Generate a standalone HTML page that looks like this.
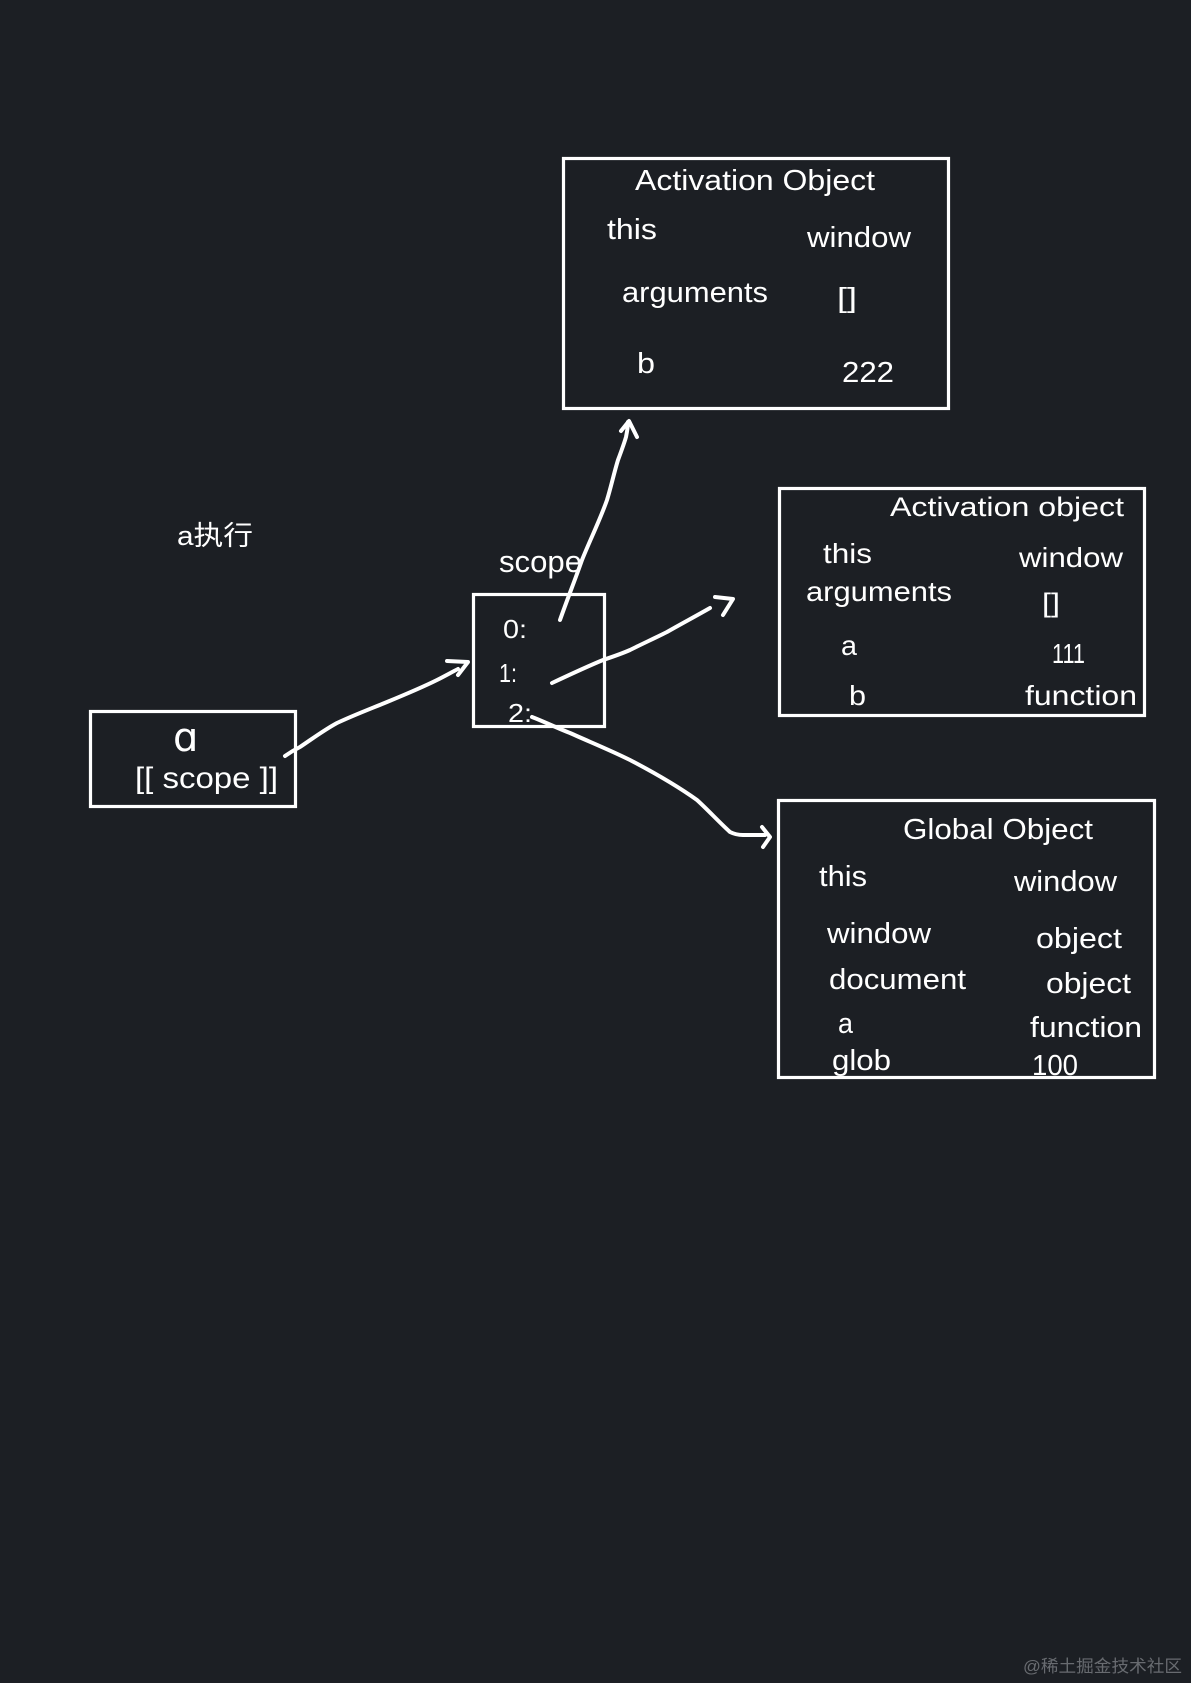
<!DOCTYPE html>
<html>
<head>
<meta charset="utf-8">
<style>
  html, body { margin: 0; padding: 0; background: #1c1f24; }
  svg { display: block; }
  text { fill: #ffffff; font-family: "Liberation Sans", "Noto Sans CJK SC", sans-serif; }
</style>
</head>
<body>
<svg width="1191" height="1683" viewBox="0 0 1191 1683" xmlns="http://www.w3.org/2000/svg">
  <rect x="0" y="0" width="1191" height="1683" fill="#1c1f24"/>

  <!-- Boxes -->
  <g fill="none" stroke="#ffffff" stroke-width="3.2">
    <rect x="563.5" y="158.5" width="385" height="250"/>
    <rect x="779.5" y="488.5" width="365" height="227"/>
    <rect x="778.5" y="800.5" width="376" height="277"/>
    <rect x="473.5" y="594.5" width="131" height="132"/>
    <rect x="90.5" y="711.5" width="205" height="95"/>
  </g>

  <!-- Box 1: Activation Object -->
  <text x="635" y="190" font-size="29" textLength="240" lengthAdjust="spacingAndGlyphs">Activation Object</text>
  <text x="607" y="239" font-size="29" textLength="50" lengthAdjust="spacingAndGlyphs">this</text>
  <text x="807" y="247" font-size="29" textLength="104" lengthAdjust="spacingAndGlyphs">window</text>
  <text x="622" y="302" font-size="29" textLength="146" lengthAdjust="spacingAndGlyphs">arguments</text>
  <text x="837" y="307" font-size="28" textLength="20" lengthAdjust="spacingAndGlyphs">[]</text>
  <text x="637" y="373" font-size="29" textLength="18" lengthAdjust="spacingAndGlyphs">b</text>
  <text x="842" y="382" font-size="29" textLength="52" lengthAdjust="spacingAndGlyphs">222</text>

  <!-- Box 2: Activation object -->
  <text x="890" y="516" font-size="27" textLength="234" lengthAdjust="spacingAndGlyphs">Activation object</text>
  <text x="823" y="563" font-size="28" textLength="49" lengthAdjust="spacingAndGlyphs">this</text>
  <text x="1019" y="567" font-size="28" textLength="104" lengthAdjust="spacingAndGlyphs">window</text>
  <text x="806" y="601" font-size="28" textLength="146" lengthAdjust="spacingAndGlyphs">arguments</text>
  <text x="1042" y="612" font-size="27" textLength="18" lengthAdjust="spacingAndGlyphs">[]</text>
  <text x="841" y="655" font-size="28" textLength="16" lengthAdjust="spacingAndGlyphs">a</text>
  <text x="1052" y="663" font-size="28" textLength="33" lengthAdjust="spacingAndGlyphs">111</text>
  <text x="849" y="705" font-size="28" textLength="17" lengthAdjust="spacingAndGlyphs">b</text>
  <text x="1025" y="705" font-size="28" textLength="112" lengthAdjust="spacingAndGlyphs">function</text>

  <!-- Box 3: Global Object -->
  <text x="903" y="839" font-size="29" textLength="190" lengthAdjust="spacingAndGlyphs">Global Object</text>
  <text x="819" y="886" font-size="29" textLength="48" lengthAdjust="spacingAndGlyphs">this</text>
  <text x="1014" y="891" font-size="29" textLength="103" lengthAdjust="spacingAndGlyphs">window</text>
  <text x="827" y="943" font-size="29" textLength="104" lengthAdjust="spacingAndGlyphs">window</text>
  <text x="1036" y="948" font-size="29" textLength="86" lengthAdjust="spacingAndGlyphs">object</text>
  <text x="829" y="989" font-size="29" textLength="137" lengthAdjust="spacingAndGlyphs">document</text>
  <text x="1046" y="993" font-size="29" textLength="85" lengthAdjust="spacingAndGlyphs">object</text>
  <text x="838" y="1033" font-size="29" textLength="15" lengthAdjust="spacingAndGlyphs">a</text>
  <text x="1030" y="1037" font-size="29" textLength="112" lengthAdjust="spacingAndGlyphs">function</text>
  <text x="832" y="1070" font-size="29" textLength="59" lengthAdjust="spacingAndGlyphs">glob</text>
  <text x="1032" y="1075" font-size="29" textLength="46" lengthAdjust="spacingAndGlyphs">100</text>

  <!-- Left labels -->
  <text x="177" y="545" font-size="27" textLength="76" lengthAdjust="spacingAndGlyphs" style="font-family: 'Liberation Sans', 'Noto Sans CJK SC', sans-serif;">a执行</text>
  <text x="499" y="572" font-size="31" textLength="83" lengthAdjust="spacingAndGlyphs">scope</text>
  <text x="503" y="638" font-size="26" textLength="24" lengthAdjust="spacingAndGlyphs">0:</text>
  <text x="499" y="682" font-size="26" textLength="18" lengthAdjust="spacingAndGlyphs">1:</text>
  <text x="508" y="722" font-size="26" textLength="24" lengthAdjust="spacingAndGlyphs">2:</text>

  <!-- a box -->
  <text x="173" y="751" font-size="40" style="font-family: 'DejaVu Sans', sans-serif; font-weight: normal;">ɑ</text>
  <text x="135" y="788" font-size="30" textLength="143" lengthAdjust="spacingAndGlyphs">[[ scope ]]</text>

  <!-- Connectors -->
  <g fill="none" stroke="#ffffff" stroke-width="4" stroke-linecap="round" stroke-linejoin="round">
    <!-- a -> scope -->
    <path d="M285,756 C292,751 296,749 300,747 C312,739 324,730 337,723 C354,715 370,709 387,702 C404,695 421,688 437,680 C445,676 452,672 458,669"/>
    <path d="M447,661 L468,662 L458,675"/>
    <!-- 0 -> box1 -->
    <path d="M560,620 C567,600 575,580 582,560 C590,540 600,520 607,500 C611,487 614,473 618,460 C621,452 624,444 626,437 C627,432 628,427 628,422"/>
    <path d="M621,431 L629,421 L637,437"/>
    <!-- 1 -> box2 -->
    <path d="M552,683 C569,675 586,667 603,660 C612,657 621,654 630,650 C642,644 655,638 667,632 C681,624 696,616 710,608"/>
    <path d="M715,597 L733,599 L723,615"/>
    <!-- 2 -> box3 -->
    <path d="M532,717 C545,722 557,728 570,733 C590,742 610,750 630,760 C653,772 676,785 697,800 C708,810 719,822 730,832 C734,834 738,835 743,835 L765,835"/>
    <path d="M762,827 L770,837 L763,847"/>
  </g>

  <!-- Watermark -->
  <text x="1023" y="1672" font-size="17" textLength="159" lengthAdjust="spacingAndGlyphs" style="fill:#686b70; font-family: 'Liberation Sans', 'Noto Sans CJK SC', sans-serif;">@稀土掘金技术社区</text>
</svg>
</body>
</html>
